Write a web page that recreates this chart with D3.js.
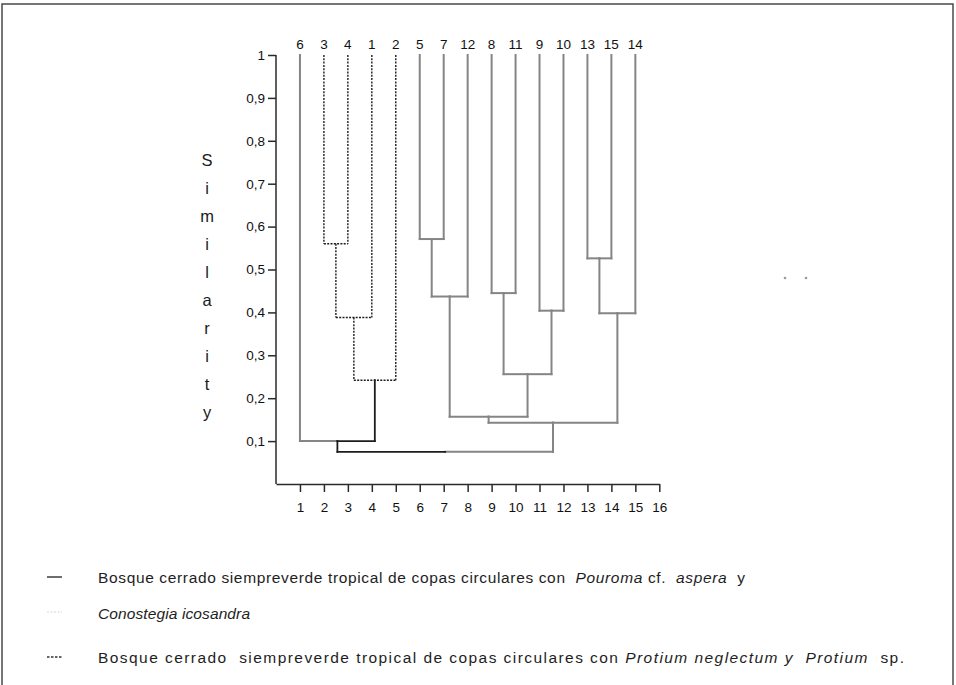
<!DOCTYPE html>
<html>
<head>
<meta charset="utf-8">
<script src="https://cdn.jsdelivr.net/npm/d3@7"></script>
<style>
  html, body { margin: 0; padding: 0; background: #fff; }
  svg { display: block; }
  text { font-family: "Liberation Sans", Arial, sans-serif; }
</style>
</head>
<body>
<svg id="chart" width="956" height="685"></svg>
<script>
// ---------------- data ----------------
const leafLabels = ["6","3","4","1","2","5","7","12","8","11","9","10","13","15","14"];
// linkage: nodes 0..14 are leaves (in drawing order), 15.. are merges in this order
const mergeLeft       = [1, 15, 16, 0, 5, 19, 8, 10, 21, 20, 12, 25, 24, 18];
const mergeRight      = [2, 3, 4, 17, 6, 7, 9, 11, 22, 23, 13, 14, 26, 27];
const mergeSimilarity = [0.56, 0.388, 0.242, 0.10, 0.571, 0.437, 0.445, 0.404, 0.256, 0.157, 0.526, 0.398, 0.143, 0.075];
const dashedGroup = ["3","4","1","2"];
const yTickValues = [0.1,0.2,0.3,0.4,0.5,0.6,0.7,0.8,0.9,1];
const xTickValues = [1,2,3,4,5,6,7,8,9,10,11,12,13,14,15,16];
const yTitle = "Similarity";
const legendLine1 = [["Bosque cerrado siempreverde tropical de copas circulares con  ", false], ["Pouroma", true], [" cf.  ", false], ["aspera", true], ["  y", false]];
const legendLine2 = [["Conostegia icosandra", true]];
const legendLine3 = [["Bosque cerrado  siempreverde tropical de copas circulares con ", false], ["Protium neglectum y", true], ["  ", false], ["Protium", true], ["  sp.", false]];

// ---------------- drawing ----------------
const svg = d3.select("#chart");
const GRAY = "#858585", INK = "#1c1c1c";

svg.append("rect").attr("x", 2).attr("y", 4).attr("width", 951).attr("height", 720)
  .attr("fill", "none").attr("stroke", "#4a4a4a").attr("stroke-width", 1.5);

const x = d3.scaleLinear().domain([0, 16]).range([276, 659.3]);
const y = d3.scaleLinear().domain([0, 1]).range([484, 55]);

// axes
const yAxis = d3.axisLeft(y).tickValues(yTickValues).tickSize(8).tickSizeOuter(0)
  .tickFormat(d => d === 1 ? "1" : d3.format(".1f")(d).replace(".", ","));
const gy = svg.append("g").attr("transform", `translate(${x(0)},0)`).call(yAxis);
gy.select(".domain").attr("d", `M0,${y(1)}V${y(0)}`);
const xAxis = d3.axisBottom(x).tickValues(xTickValues).tickSize(8).tickSizeOuter(0).tickFormat(d3.format("d"));
const gx = svg.append("g").attr("transform", `translate(0,${y(0)})`).call(xAxis);
[gx, gy].forEach(g => {
  g.selectAll("path, line").attr("stroke", "#2a2a2a").attr("stroke-width", 1.5);
  g.selectAll("text").attr("font-size", 13.5).attr("fill", "#111")
    .attr("font-family", "'Liberation Sans', Arial, sans-serif");
});
gy.selectAll(".tick text").attr("x", -11);
gx.selectAll(".tick text").attr("y", 18);

// y title stacked letters
svg.append("g").selectAll("text").data(yTitle.split("")).join("text")
  .attr("x", 207).attr("y", (d, i) => 166 + i * 28)
  .attr("text-anchor", "middle").attr("font-size", 16.5).attr("fill", "#1a1a1a").text(d => d);

// dendrogram geometry
const nLeaves = leafLabels.length;
const nodeX = [], nodeH = [], nodeLeaves = [];
leafLabels.forEach((lab, i) => { nodeX[i] = i + 1; nodeH[i] = 1; nodeLeaves[i] = [lab]; });
mergeLeft.forEach((a, j) => {
  const b = mergeRight[j], k = nLeaves + j;
  nodeX[k] = (nodeX[a] + nodeX[b]) / 2;
  nodeH[k] = mergeSimilarity[j];
  nodeLeaves[k] = nodeLeaves[a].concat(nodeLeaves[b]);
});
const inDash = lab => dashedGroup.includes(lab);
const allDash = k => nodeLeaves[k].every(inDash);
const anyDash = k => nodeLeaves[k].some(inDash);

const segs = [];
mergeLeft.forEach((a, j) => {
  const b = mergeRight[j], k = nLeaves + j, s = mergeSimilarity[j];
  const mergeDashed = allDash(k);
  [a, b].forEach(c => {
    let st = "gray";
    if (mergeDashed) st = "dash";
    else if (anyDash(c)) st = "ink";
    segs.push({x1: nodeX[c], y1: nodeH[c], x2: nodeX[c], y2: s, st});
  });
  if (mergeDashed) {
    segs.push({x1: nodeX[a], y1: s, x2: nodeX[b], y2: s, st: "dash"});
  } else {
    const cx = nodeX[k];
    segs.push({x1: nodeX[a], y1: s, x2: cx, y2: s, st: anyDash(a) ? "ink" : "gray"});
    segs.push({x1: cx, y1: s, x2: nodeX[b], y2: s, st: anyDash(b) ? "ink" : "gray"});
  }
});
const order = {gray: 0, dash: 1, ink: 2};
segs.sort((p, q) => order[p.st] - order[q.st]);
svg.append("g").selectAll("line").data(segs).join("line")
  .attr("x1", d => x(d.x1)).attr("x2", d => x(d.x2))
  .attr("y1", d => y(d.y1)).attr("y2", d => y(d.y2))
  .attr("stroke", d => d.st === "gray" ? GRAY : INK)
  .attr("stroke-width", d => d.st === "dash" ? 1.4 : (d.st === "ink" ? 1.8 : 2))
  .attr("stroke-linecap", d => d.st === "dash" ? "butt" : "square")
  .attr("stroke-dasharray", d => d.st === "dash" ? "2,1.3" : null);

// leaf labels
svg.append("g").selectAll("text").data(leafLabels).join("text")
  .attr("x", (d, i) => x(i + 1)).attr("y", 49)
  .attr("text-anchor", "middle").attr("font-size", 13.5).attr("fill", "#111").text(d => d);

// stray dots
svg.append("g").selectAll("circle").data([785, 806]).join("circle")
  .attr("cx", d => d).attr("cy", 278).attr("r", 1.3).attr("fill", "#9a9a9a");

// legend
function legendText(parts, yy, len) {
  const t = svg.append("text").attr("x", 98).attr("y", yy).attr("font-size", 15.5)
    .attr("fill", "#1e1e1e").style("white-space", "pre")
    .attr("textLength", len).attr("lengthAdjust", "spacing");
  parts.forEach(([s, it]) => t.append("tspan").attr("font-style", it ? "italic" : "normal").text(s));
}
svg.append("line").attr("x1", 47).attr("x2", 62).attr("y1", 577).attr("y2", 577)
  .attr("stroke", "#6e6e6e").attr("stroke-width", 2);
svg.append("line").attr("x1", 47).attr("x2", 62).attr("y1", 612).attr("y2", 612)
  .attr("stroke", "#e4e4e4").attr("stroke-width", 1.5).attr("stroke-dasharray", "2,1.5");
svg.append("line").attr("x1", 47).attr("x2", 62).attr("y1", 657).attr("y2", 657)
  .attr("stroke", "#333").attr("stroke-width", 1.5).attr("stroke-dasharray", "2.5,1.5");
legendText(legendLine1, 583, 647);
legendText(legendLine2, 619, 152);
legendText(legendLine3, 663, 806);
</script>
</body>
</html>
